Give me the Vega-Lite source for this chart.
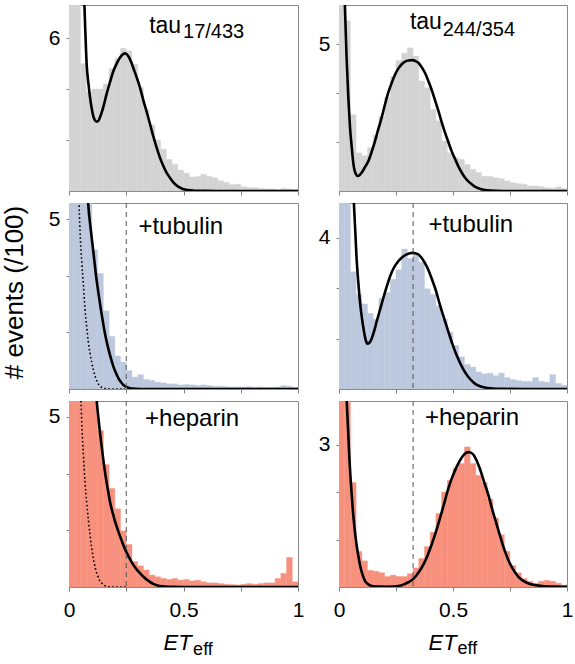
{
  "$schema": "https://vega.github.io/schema/vega-lite/v6.json",
  "padding": {"left": 0, "top": 4, "right": 0, "bottom": 0},
  "background": "white",
  "spacing": 6,
  "config": {
    "view": {"stroke": "#8a8a8a", "strokeWidth": 1},
    "font": "Liberation Sans",
    "axis": {"domain": false, "grid": false, "tickColor": "#808080", "tickSize": 3, "labelPadding": 6, "labelFont": "Liberation Sans", "titleFont": "Liberation Sans", "labelFontSize": 21, "labelColor": "#000", "titleColor": "#000", "labelOverlap": false, "labelFlush": false},
    "axisX": {"tickSize": 4},
    "text": {"font": "Liberation Sans", "color": "#000"}
  },
  "datasets": {
    "h1": [{"x":0,"x2":0.025,"y":9},{"x":0.025,"x2":0.05,"y":7.5},{"x":0.05,"x2":0.075,"y":5.0},{"x":0.075,"x2":0.1,"y":3.9},{"x":0.1,"x2":0.125,"y":4.0},{"x":0.125,"x2":0.15,"y":4.0},{"x":0.15,"x2":0.175,"y":4.2},{"x":0.175,"x2":0.2,"y":4.8},{"x":0.2,"x2":0.225,"y":5.2},{"x":0.225,"x2":0.25,"y":5.6},{"x":0.25,"x2":0.275,"y":5.5},{"x":0.275,"x2":0.3,"y":4.97},{"x":0.3,"x2":0.325,"y":4.06},{"x":0.325,"x2":0.35,"y":3.2},{"x":0.35,"x2":0.375,"y":2.6},{"x":0.375,"x2":0.4,"y":2.0},{"x":0.4,"x2":0.425,"y":1.64},{"x":0.425,"x2":0.45,"y":1.24},{"x":0.45,"x2":0.475,"y":1.05},{"x":0.475,"x2":0.5,"y":0.82},{"x":0.5,"x2":0.525,"y":0.7},{"x":0.525,"x2":0.55,"y":0.55},{"x":0.55,"x2":0.575,"y":0.57},{"x":0.575,"x2":0.6,"y":0.65},{"x":0.6,"x2":0.625,"y":0.57},{"x":0.625,"x2":0.65,"y":0.52},{"x":0.65,"x2":0.675,"y":0.4},{"x":0.675,"x2":0.7,"y":0.34},{"x":0.7,"x2":0.725,"y":0.25},{"x":0.725,"x2":0.75,"y":0.27},{"x":0.75,"x2":0.775,"y":0.17},{"x":0.775,"x2":0.8,"y":0.14},{"x":0.8,"x2":0.825,"y":0.13},{"x":0.825,"x2":0.85,"y":0.1},{"x":0.85,"x2":0.875,"y":0.08},{"x":0.875,"x2":0.9,"y":0.09},{"x":0.9,"x2":0.925,"y":0.06},{"x":0.925,"x2":0.95,"y":0.1},{"x":0.95,"x2":0.975,"y":0.08},{"x":0.975,"x2":1,"y":0.06}],
    "h2": [{"x":0,"x2":0.025,"y":8},{"x":0.025,"x2":0.05,"y":5.8},{"x":0.05,"x2":0.075,"y":2.6},{"x":0.075,"x2":0.1,"y":1.3},{"x":0.1,"x2":0.125,"y":1.2},{"x":0.125,"x2":0.15,"y":1.48},{"x":0.15,"x2":0.175,"y":1.9},{"x":0.175,"x2":0.2,"y":2.55},{"x":0.2,"x2":0.225,"y":3.2},{"x":0.225,"x2":0.25,"y":3.9},{"x":0.25,"x2":0.275,"y":4.45},{"x":0.275,"x2":0.3,"y":4.7},{"x":0.3,"x2":0.325,"y":4.88},{"x":0.325,"x2":0.35,"y":4.6},{"x":0.35,"x2":0.375,"y":3.75},{"x":0.375,"x2":0.4,"y":3.52},{"x":0.4,"x2":0.425,"y":2.78},{"x":0.425,"x2":0.45,"y":2.39},{"x":0.45,"x2":0.475,"y":1.7},{"x":0.475,"x2":0.5,"y":1.3},{"x":0.5,"x2":0.525,"y":1.14},{"x":0.525,"x2":0.55,"y":1.08},{"x":0.55,"x2":0.575,"y":0.9},{"x":0.575,"x2":0.6,"y":0.74},{"x":0.6,"x2":0.625,"y":0.63},{"x":0.625,"x2":0.65,"y":0.5},{"x":0.65,"x2":0.675,"y":0.5},{"x":0.675,"x2":0.7,"y":0.45},{"x":0.7,"x2":0.725,"y":0.42},{"x":0.725,"x2":0.75,"y":0.34},{"x":0.75,"x2":0.775,"y":0.28},{"x":0.775,"x2":0.8,"y":0.25},{"x":0.8,"x2":0.825,"y":0.23},{"x":0.825,"x2":0.85,"y":0.17},{"x":0.85,"x2":0.875,"y":0.17},{"x":0.875,"x2":0.9,"y":0.15},{"x":0.9,"x2":0.925,"y":0.11},{"x":0.925,"x2":0.95,"y":0.09},{"x":0.95,"x2":0.975,"y":0.14},{"x":0.975,"x2":1,"y":0.08}],
    "h3": [{"x":0,"x2":0.025,"y":8},{"x":0.025,"x2":0.05,"y":7},{"x":0.05,"x2":0.075,"y":6},{"x":0.075,"x2":0.1,"y":5.6},{"x":0.1,"x2":0.125,"y":4.1},{"x":0.125,"x2":0.15,"y":3.4},{"x":0.15,"x2":0.175,"y":2.3},{"x":0.175,"x2":0.2,"y":1.55},{"x":0.2,"x2":0.225,"y":0.97},{"x":0.225,"x2":0.25,"y":0.79},{"x":0.25,"x2":0.275,"y":0.54},{"x":0.275,"x2":0.3,"y":0.35},{"x":0.3,"x2":0.325,"y":0.42},{"x":0.325,"x2":0.35,"y":0.28},{"x":0.35,"x2":0.375,"y":0.25},{"x":0.375,"x2":0.4,"y":0.2},{"x":0.4,"x2":0.425,"y":0.18},{"x":0.425,"x2":0.45,"y":0.15},{"x":0.45,"x2":0.475,"y":0.15},{"x":0.475,"x2":0.5,"y":0.12},{"x":0.5,"x2":0.525,"y":0.13},{"x":0.525,"x2":0.55,"y":0.12},{"x":0.55,"x2":0.575,"y":0.1},{"x":0.575,"x2":0.6,"y":0.12},{"x":0.6,"x2":0.625,"y":0.1},{"x":0.625,"x2":0.65,"y":0.08},{"x":0.65,"x2":0.675,"y":0.08},{"x":0.675,"x2":0.7,"y":0.07},{"x":0.7,"x2":0.725,"y":0.06},{"x":0.725,"x2":0.75,"y":0.06},{"x":0.75,"x2":0.775,"y":0.06},{"x":0.775,"x2":0.8,"y":0.07},{"x":0.8,"x2":0.825,"y":0.05},{"x":0.825,"x2":0.85,"y":0.06},{"x":0.85,"x2":0.875,"y":0.05},{"x":0.875,"x2":0.9,"y":0.05},{"x":0.9,"x2":0.925,"y":0.06},{"x":0.925,"x2":0.95,"y":0.1},{"x":0.95,"x2":0.975,"y":0.08},{"x":0.975,"x2":1,"y":0.05}],
    "h4": [{"x":0,"x2":0.025,"y":6},{"x":0.025,"x2":0.05,"y":5.2},{"x":0.05,"x2":0.075,"y":3.1},{"x":0.075,"x2":0.1,"y":2.5},{"x":0.1,"x2":0.125,"y":2.25},{"x":0.125,"x2":0.15,"y":2.0},{"x":0.15,"x2":0.175,"y":1.85},{"x":0.175,"x2":0.2,"y":2.4},{"x":0.2,"x2":0.225,"y":2.55},{"x":0.225,"x2":0.25,"y":2.9},{"x":0.25,"x2":0.275,"y":3.15},{"x":0.275,"x2":0.3,"y":3.7},{"x":0.3,"x2":0.325,"y":3.45},{"x":0.325,"x2":0.35,"y":3.55},{"x":0.35,"x2":0.375,"y":3.35},{"x":0.375,"x2":0.4,"y":2.65},{"x":0.4,"x2":0.425,"y":2.5},{"x":0.425,"x2":0.45,"y":2.2},{"x":0.45,"x2":0.475,"y":1.85},{"x":0.475,"x2":0.5,"y":1.5},{"x":0.5,"x2":0.525,"y":1.15},{"x":0.525,"x2":0.55,"y":0.85},{"x":0.55,"x2":0.575,"y":0.65},{"x":0.575,"x2":0.6,"y":0.58},{"x":0.6,"x2":0.625,"y":0.45},{"x":0.625,"x2":0.65,"y":0.4},{"x":0.65,"x2":0.675,"y":0.42},{"x":0.675,"x2":0.7,"y":0.35},{"x":0.7,"x2":0.725,"y":0.42},{"x":0.725,"x2":0.75,"y":0.3},{"x":0.75,"x2":0.775,"y":0.25},{"x":0.775,"x2":0.8,"y":0.22},{"x":0.8,"x2":0.825,"y":0.2},{"x":0.825,"x2":0.85,"y":0.2},{"x":0.85,"x2":0.875,"y":0.3},{"x":0.875,"x2":0.9,"y":0.2},{"x":0.9,"x2":0.925,"y":0.18},{"x":0.925,"x2":0.95,"y":0.38},{"x":0.95,"x2":0.975,"y":0.15},{"x":0.975,"x2":1,"y":0.1}],
    "h5": [{"x":0,"x2":0.025,"y":9},{"x":0.025,"x2":0.05,"y":8},{"x":0.05,"x2":0.075,"y":7},{"x":0.075,"x2":0.1,"y":6.2},{"x":0.1,"x2":0.125,"y":5.5},{"x":0.125,"x2":0.15,"y":4.6},{"x":0.15,"x2":0.175,"y":3.6},{"x":0.175,"x2":0.2,"y":2.9},{"x":0.2,"x2":0.225,"y":2.3},{"x":0.225,"x2":0.25,"y":1.65},{"x":0.25,"x2":0.275,"y":1.25},{"x":0.275,"x2":0.3,"y":0.75},{"x":0.3,"x2":0.325,"y":0.62},{"x":0.325,"x2":0.35,"y":0.5},{"x":0.35,"x2":0.375,"y":0.35},{"x":0.375,"x2":0.4,"y":0.3},{"x":0.4,"x2":0.425,"y":0.25},{"x":0.425,"x2":0.45,"y":0.22},{"x":0.45,"x2":0.475,"y":0.25},{"x":0.475,"x2":0.5,"y":0.2},{"x":0.5,"x2":0.525,"y":0.22},{"x":0.525,"x2":0.55,"y":0.18},{"x":0.55,"x2":0.575,"y":0.2},{"x":0.575,"x2":0.6,"y":0.15},{"x":0.6,"x2":0.625,"y":0.12},{"x":0.625,"x2":0.65,"y":0.12},{"x":0.65,"x2":0.675,"y":0.1},{"x":0.675,"x2":0.7,"y":0.08},{"x":0.7,"x2":0.725,"y":0.07},{"x":0.725,"x2":0.75,"y":0.06},{"x":0.75,"x2":0.775,"y":0.08},{"x":0.775,"x2":0.8,"y":0.1},{"x":0.8,"x2":0.825,"y":0.08},{"x":0.825,"x2":0.85,"y":0.1},{"x":0.85,"x2":0.875,"y":0.12},{"x":0.875,"x2":0.9,"y":0.12},{"x":0.9,"x2":0.925,"y":0.25},{"x":0.925,"x2":0.95,"y":0.4},{"x":0.95,"x2":0.975,"y":0.87},{"x":0.975,"x2":1,"y":0.15}],
    "h6": [{"x":0,"x2":0.025,"y":5},{"x":0.025,"x2":0.05,"y":4.5},{"x":0.05,"x2":0.075,"y":2.2},{"x":0.075,"x2":0.1,"y":0.75},{"x":0.1,"x2":0.125,"y":0.55},{"x":0.125,"x2":0.15,"y":0.35},{"x":0.15,"x2":0.175,"y":0.33},{"x":0.175,"x2":0.2,"y":0.3},{"x":0.2,"x2":0.225,"y":0.22},{"x":0.225,"x2":0.25,"y":0.25},{"x":0.25,"x2":0.275,"y":0.22},{"x":0.275,"x2":0.3,"y":0.22},{"x":0.3,"x2":0.325,"y":0.28},{"x":0.325,"x2":0.35,"y":0.4},{"x":0.35,"x2":0.375,"y":0.6},{"x":0.375,"x2":0.4,"y":0.85},{"x":0.4,"x2":0.425,"y":1.15},{"x":0.425,"x2":0.45,"y":1.55},{"x":0.45,"x2":0.475,"y":2.0},{"x":0.475,"x2":0.5,"y":2.25},{"x":0.5,"x2":0.525,"y":2.5},{"x":0.525,"x2":0.55,"y":2.6},{"x":0.55,"x2":0.575,"y":2.95},{"x":0.575,"x2":0.6,"y":2.6},{"x":0.6,"x2":0.625,"y":2.35},{"x":0.625,"x2":0.65,"y":2.2},{"x":0.65,"x2":0.675,"y":1.85},{"x":0.675,"x2":0.7,"y":1.45},{"x":0.7,"x2":0.725,"y":1.1},{"x":0.725,"x2":0.75,"y":0.75},{"x":0.75,"x2":0.775,"y":0.45},{"x":0.775,"x2":0.8,"y":0.3},{"x":0.8,"x2":0.825,"y":0.18},{"x":0.825,"x2":0.85,"y":0.12},{"x":0.85,"x2":0.875,"y":0.08},{"x":0.875,"x2":0.9,"y":0.12},{"x":0.9,"x2":0.925,"y":0.14},{"x":0.925,"x2":0.95,"y":0.12},{"x":0.95,"x2":0.975,"y":0.08},{"x":0.975,"x2":1,"y":0.04}],
    "f1": [{"x":0.045,"y":14},{"x":0.055,"y":10.5},{"x":0.063,"y":8.4},{"x":0.07,"y":6.6},{"x":0.077,"y":5.0},{"x":0.085,"y":4.2},{"x":0.092,"y":3.66},{"x":0.099,"y":3.25},{"x":0.106,"y":2.94},{"x":0.113,"y":2.78},{"x":0.121,"y":2.72},{"x":0.128,"y":2.75},{"x":0.135,"y":2.88},{"x":0.15,"y":3.3},{"x":0.164,"y":3.8},{"x":0.179,"y":4.27},{"x":0.194,"y":4.71},{"x":0.208,"y":5.0},{"x":0.223,"y":5.24},{"x":0.245,"y":5.4},{"x":0.26,"y":5.28},{"x":0.272,"y":5.05},{"x":0.284,"y":4.75},{"x":0.297,"y":4.42},{"x":0.31,"y":4.06},{"x":0.325,"y":3.55},{"x":0.34,"y":3.08},{"x":0.354,"y":2.62},{"x":0.368,"y":2.15},{"x":0.382,"y":1.72},{"x":0.397,"y":1.31},{"x":0.412,"y":0.98},{"x":0.426,"y":0.72},{"x":0.441,"y":0.52},{"x":0.456,"y":0.34},{"x":0.47,"y":0.22},{"x":0.485,"y":0.13},{"x":0.5,"y":0.07},{"x":0.52,"y":0.035},{"x":0.55,"y":0.012},{"x":0.6,"y":0.004},{"x":0.7,"y":0},{"x":1,"y":0}],
    "f2": [{"x":0.012,"y":11},{"x":0.018,"y":8.5},{"x":0.022,"y":7.2},{"x":0.026,"y":6.3},{"x":0.033,"y":4.6},{"x":0.041,"y":3.18},{"x":0.048,"y":2.2},{"x":0.056,"y":1.48},{"x":0.062,"y":1.0},{"x":0.067,"y":0.74},{"x":0.074,"y":0.58},{"x":0.082,"y":0.51},{"x":0.09,"y":0.54},{"x":0.099,"y":0.62},{"x":0.113,"y":0.8},{"x":0.129,"y":1.02},{"x":0.143,"y":1.33},{"x":0.158,"y":1.7},{"x":0.172,"y":2.1},{"x":0.187,"y":2.5},{"x":0.201,"y":2.93},{"x":0.216,"y":3.35},{"x":0.231,"y":3.68},{"x":0.246,"y":3.97},{"x":0.26,"y":4.17},{"x":0.275,"y":4.32},{"x":0.29,"y":4.41},{"x":0.304,"y":4.45},{"x":0.322,"y":4.46},{"x":0.335,"y":4.43},{"x":0.348,"y":4.37},{"x":0.362,"y":4.23},{"x":0.377,"y":4.03},{"x":0.391,"y":3.77},{"x":0.406,"y":3.46},{"x":0.421,"y":3.1},{"x":0.436,"y":2.73},{"x":0.45,"y":2.36},{"x":0.465,"y":1.99},{"x":0.48,"y":1.66},{"x":0.494,"y":1.36},{"x":0.509,"y":1.09},{"x":0.523,"y":0.85},{"x":0.538,"y":0.63},{"x":0.553,"y":0.45},{"x":0.567,"y":0.33},{"x":0.582,"y":0.23},{"x":0.6,"y":0.13},{"x":0.62,"y":0.07},{"x":0.65,"y":0.025},{"x":0.69,"y":0.007},{"x":0.75,"y":0},{"x":1,"y":0}],
    "f3": [{"x":0.06,"y":9},{"x":0.07,"y":7.2},{"x":0.078,"y":6.2},{"x":0.084,"y":5.44},{"x":0.095,"y":4.7},{"x":0.106,"y":4.06},{"x":0.117,"y":3.4},{"x":0.128,"y":2.85},{"x":0.139,"y":2.35},{"x":0.15,"y":1.9},{"x":0.161,"y":1.5},{"x":0.172,"y":1.18},{"x":0.183,"y":0.9},{"x":0.194,"y":0.66},{"x":0.205,"y":0.47},{"x":0.215,"y":0.33},{"x":0.226,"y":0.21},{"x":0.237,"y":0.12},{"x":0.25,"y":0.06},{"x":0.266,"y":0.025},{"x":0.29,"y":0.008},{"x":0.33,"y":0},{"x":1,"y":0}],
    "d3": [{"x":0.035,"y":8},{"x":0.04,"y":6.5},{"x":0.044,"y":5.45},{"x":0.05,"y":4.4},{"x":0.056,"y":3.7},{"x":0.0625,"y":3.1},{"x":0.07,"y":2.35},{"x":0.077,"y":1.85},{"x":0.084,"y":1.4},{"x":0.092,"y":1.05},{"x":0.099,"y":0.78},{"x":0.107,"y":0.55},{"x":0.114,"y":0.38},{"x":0.121,"y":0.25},{"x":0.128,"y":0.15},{"x":0.136,"y":0.08},{"x":0.147,"y":0.04},{"x":0.157,"y":0.015},{"x":0.17,"y":0.003},{"x":0.2,"y":0},{"x":0.245,"y":0}],
    "f4": [{"x":0.05,"y":8},{"x":0.056,"y":6.5},{"x":0.062,"y":5.4},{"x":0.067,"y":4.7},{"x":0.072,"y":4.1},{"x":0.077,"y":3.47},{"x":0.085,"y":2.8},{"x":0.092,"y":2.31},{"x":0.1,"y":1.9},{"x":0.11,"y":1.51},{"x":0.117,"y":1.3},{"x":0.124,"y":1.2},{"x":0.133,"y":1.22},{"x":0.143,"y":1.33},{"x":0.155,"y":1.55},{"x":0.165,"y":1.78},{"x":0.18,"y":2.1},{"x":0.194,"y":2.4},{"x":0.21,"y":2.72},{"x":0.224,"y":2.98},{"x":0.24,"y":3.2},{"x":0.26,"y":3.38},{"x":0.28,"y":3.5},{"x":0.297,"y":3.56},{"x":0.323,"y":3.6},{"x":0.348,"y":3.56},{"x":0.362,"y":3.47},{"x":0.377,"y":3.33},{"x":0.392,"y":3.15},{"x":0.406,"y":2.93},{"x":0.425,"y":2.6},{"x":0.443,"y":2.22},{"x":0.462,"y":1.85},{"x":0.48,"y":1.51},{"x":0.498,"y":1.18},{"x":0.516,"y":0.89},{"x":0.535,"y":0.64},{"x":0.553,"y":0.44},{"x":0.571,"y":0.29},{"x":0.589,"y":0.18},{"x":0.607,"y":0.1},{"x":0.626,"y":0.06},{"x":0.662,"y":0.02},{"x":0.72,"y":0.003},{"x":0.8,"y":0},{"x":1,"y":0}],
    "f5": [{"x":0.1,"y":8},{"x":0.11,"y":6.6},{"x":0.121,"y":5.47},{"x":0.128,"y":5.0},{"x":0.135,"y":4.56},{"x":0.146,"y":3.95},{"x":0.157,"y":3.39},{"x":0.168,"y":2.93},{"x":0.179,"y":2.51},{"x":0.19,"y":2.2},{"x":0.201,"y":1.93},{"x":0.212,"y":1.7},{"x":0.223,"y":1.49},{"x":0.236,"y":1.26},{"x":0.249,"y":1.05},{"x":0.265,"y":0.84},{"x":0.281,"y":0.65},{"x":0.295,"y":0.52},{"x":0.31,"y":0.41},{"x":0.325,"y":0.3},{"x":0.339,"y":0.22},{"x":0.353,"y":0.15},{"x":0.368,"y":0.09},{"x":0.383,"y":0.05},{"x":0.397,"y":0.03},{"x":0.42,"y":0.012},{"x":0.45,"y":0.004},{"x":0.5,"y":0},{"x":1,"y":0}],
    "d5": [{"x":0.035,"y":9},{"x":0.04,"y":8},{"x":0.045,"y":6.5},{"x":0.052,"y":5.47},{"x":0.057,"y":4.6},{"x":0.063,"y":3.88},{"x":0.07,"y":3.1},{"x":0.077,"y":2.51},{"x":0.085,"y":1.95},{"x":0.092,"y":1.53},{"x":0.099,"y":1.15},{"x":0.106,"y":0.85},{"x":0.115,"y":0.55},{"x":0.124,"y":0.36},{"x":0.133,"y":0.2},{"x":0.143,"y":0.12},{"x":0.152,"y":0.06},{"x":0.162,"y":0.02},{"x":0.175,"y":0.005},{"x":0.2,"y":0},{"x":0.25,"y":0}],
    "f6": [{"x":0.018,"y":8},{"x":0.024,"y":6},{"x":0.029,"y":4.6},{"x":0.034,"y":3.91},{"x":0.04,"y":3.3},{"x":0.045,"y":2.77},{"x":0.052,"y":2.2},{"x":0.06,"y":1.66},{"x":0.068,"y":1.25},{"x":0.077,"y":0.89},{"x":0.086,"y":0.62},{"x":0.095,"y":0.4},{"x":0.104,"y":0.25},{"x":0.114,"y":0.13},{"x":0.125,"y":0.07},{"x":0.136,"y":0.035},{"x":0.155,"y":0.012},{"x":0.18,"y":0.007},{"x":0.21,"y":0.006},{"x":0.238,"y":0.008},{"x":0.26,"y":0.02},{"x":0.282,"y":0.05},{"x":0.304,"y":0.1},{"x":0.326,"y":0.17},{"x":0.348,"y":0.3},{"x":0.37,"y":0.47},{"x":0.388,"y":0.66},{"x":0.406,"y":0.89},{"x":0.425,"y":1.16},{"x":0.443,"y":1.45},{"x":0.462,"y":1.77},{"x":0.48,"y":2.08},{"x":0.498,"y":2.33},{"x":0.516,"y":2.53},{"x":0.53,"y":2.66},{"x":0.545,"y":2.77},{"x":0.556,"y":2.82},{"x":0.567,"y":2.84},{"x":0.578,"y":2.83},{"x":0.589,"y":2.79},{"x":0.603,"y":2.67},{"x":0.618,"y":2.49},{"x":0.636,"y":2.22},{"x":0.655,"y":1.94},{"x":0.673,"y":1.62},{"x":0.692,"y":1.31},{"x":0.71,"y":1.02},{"x":0.728,"y":0.75},{"x":0.746,"y":0.53},{"x":0.765,"y":0.36},{"x":0.786,"y":0.22},{"x":0.808,"y":0.13},{"x":0.835,"y":0.07},{"x":0.867,"y":0.035},{"x":0.9,"y":0.015},{"x":0.94,"y":0.007},{"x":1,"y":0.003}]
  },
  "vconcat": [
    {
      "bounds": "flush",
      "spacing": 41,
      "hconcat": [
        {
          "width": 229, "height": 186,
          "layer": [
            {"data": {"name": "h1"}, "mark": {"type": "bar", "fill": "#d3d3d3", "stroke": "#d3d3d3", "strokeWidth": 0.4, "clip": true},
             "encoding": {
               "x": {"field": "x", "type": "quantitative", "scale": {"domain": [0, 1], "nice": false, "zero": false}, "axis": {"values": [0, 0.25, 0.5, 0.75, 1], "labels": false, "title": null}},
               "x2": {"field": "x2"},
               "y": {"field": "y", "type": "quantitative", "scale": {"domain": [0, 7.3], "nice": false}, "axis": {"values": [2, 4, 6], "labelExpr": "datum.value == 6 ? '6' : ''", "title": null}},
               "y2": {"datum": 0}
             }},
            {"data": {"name": "f1"}, "mark": {"type": "line", "color": "#000", "strokeWidth": 2.6, "interpolate": "monotone", "clip": true},
             "encoding": {"x": {"field": "x", "type": "quantitative"}, "y": {"field": "y", "type": "quantitative"}}},
            {"data": {"values": [{"t": "tau"}]}, "mark": {"type": "text", "align": "left", "baseline": "alphabetic", "fontSize": 23},
             "encoding": {"x": {"datum": 0.35}, "y": {"datum": 6.2}, "text": {"field": "t"}}},
            {"data": {"values": [{"t": "17/433"}]}, "mark": {"type": "text", "align": "left", "baseline": "alphabetic", "fontSize": 20},
             "encoding": {"x": {"datum": 0.498}, "y": {"datum": 6.02}, "text": {"field": "t"}}}
          ]
        },
        {
          "width": 228, "height": 186,
          "layer": [
            {"data": {"name": "h2"}, "mark": {"type": "bar", "fill": "#d3d3d3", "stroke": "#d3d3d3", "strokeWidth": 0.4, "clip": true},
             "encoding": {
               "x": {"field": "x", "type": "quantitative", "scale": {"domain": [0, 1], "nice": false, "zero": false}, "axis": {"values": [0, 0.25, 0.5, 0.75, 1], "labels": false, "title": null}},
               "x2": {"field": "x2"},
               "y": {"field": "y", "type": "quantitative", "scale": {"domain": [0, 6.34], "nice": false}, "axis": {"values": [1.6667, 3.3333, 5], "labelExpr": "datum.value == 5 ? '5' : ''", "title": null}},
               "y2": {"datum": 0}
             }},
            {"data": {"name": "f2"}, "mark": {"type": "line", "color": "#000", "strokeWidth": 2.6, "interpolate": "monotone", "clip": true},
             "encoding": {"x": {"field": "x", "type": "quantitative"}, "y": {"field": "y", "type": "quantitative"}}},
            {"data": {"values": [{"t": "tau"}]}, "mark": {"type": "text", "align": "left", "baseline": "alphabetic", "fontSize": 23},
             "encoding": {"x": {"datum": 0.311}, "y": {"datum": 5.51}, "text": {"field": "t"}}},
            {"data": {"values": [{"t": "244/354"}]}, "mark": {"type": "text", "align": "left", "baseline": "alphabetic", "fontSize": 20},
             "encoding": {"x": {"datum": 0.455}, "y": {"datum": 5.27}, "text": {"field": "t"}}}
          ]
        }
      ]
    },
    {
      "bounds": "flush",
      "spacing": 41,
      "hconcat": [
        {
          "width": 229, "height": 186,
          "layer": [
            {"data": {"name": "h3"}, "mark": {"type": "bar", "fill": "#bcc8dd", "stroke": "#bcc8dd", "strokeWidth": 0.4, "clip": true},
             "encoding": {
               "x": {"field": "x", "type": "quantitative", "scale": {"domain": [0, 1], "nice": false, "zero": false}, "axis": {"values": [0, 0.25, 0.5, 0.75, 1], "labels": false, "title": null}},
               "x2": {"field": "x2"},
               "y": {"field": "y", "type": "quantitative", "scale": {"domain": [0, 5.475], "nice": false}, "axis": {"values": [1.6667, 3.3333, 5], "labelExpr": "datum.value == 5 ? '5' : ''", "title": "# events (/100)", "titleFontSize": 26, "titleFontWeight": "normal", "titleAngle": 270, "titleX": -47, "titleY": 89, "titleAlign": "center", "titleBaseline": "alphabetic"}},
               "y2": {"datum": 0}
             }},
            {"data": {"name": "d3"}, "mark": {"type": "line", "color": "#000", "strokeWidth": 1.6, "strokeDash": [1.6, 2.4], "interpolate": "monotone", "clip": true},
             "encoding": {"x": {"field": "x", "type": "quantitative"}, "y": {"field": "y", "type": "quantitative"}}},
            {"data": {"name": "f3"}, "mark": {"type": "line", "color": "#000", "strokeWidth": 2.6, "interpolate": "monotone", "clip": true},
             "encoding": {"x": {"field": "x", "type": "quantitative"}, "y": {"field": "y", "type": "quantitative"}}},
            {"data": {"values": [{"v": 0.25}]}, "mark": {"type": "rule", "color": "#555", "strokeWidth": 1, "strokeDash": [5, 4]},
             "encoding": {"x": {"field": "v", "type": "quantitative"}}},
            {"data": {"values": [{"t": "+tubulin"}]}, "mark": {"type": "text", "align": "left", "baseline": "alphabetic", "fontSize": 24},
             "encoding": {"x": {"datum": 0.303}, "y": {"datum": 4.55}, "text": {"field": "t"}}}
          ]
        },
        {
          "width": 228, "height": 186,
          "layer": [
            {"data": {"name": "h4"}, "mark": {"type": "bar", "fill": "#bcc8dd", "stroke": "#bcc8dd", "strokeWidth": 0.4, "clip": true},
             "encoding": {
               "x": {"field": "x", "type": "quantitative", "scale": {"domain": [0, 1], "nice": false, "zero": false}, "axis": {"values": [0, 0.25, 0.5, 0.75, 1], "labels": false, "title": null}},
               "x2": {"field": "x2"},
               "y": {"field": "y", "type": "quantitative", "scale": {"domain": [0, 4.92], "nice": false}, "axis": {"values": [1.3333, 2.6667, 4], "labelExpr": "datum.value == 4 ? '4' : ''", "title": null}},
               "y2": {"datum": 0}
             }},
            {"data": {"name": "f4"}, "mark": {"type": "line", "color": "#000", "strokeWidth": 2.6, "interpolate": "monotone", "clip": true},
             "encoding": {"x": {"field": "x", "type": "quantitative"}, "y": {"field": "y", "type": "quantitative"}}},
            {"data": {"values": [{"v": 0.325}]}, "mark": {"type": "rule", "color": "#555", "strokeWidth": 1, "strokeDash": [5, 4]},
             "encoding": {"x": {"field": "v", "type": "quantitative"}}},
            {"data": {"values": [{"t": "+tubulin"}]}, "mark": {"type": "text", "align": "left", "baseline": "alphabetic", "fontSize": 24},
             "encoding": {"x": {"datum": 0.392}, "y": {"datum": 4.16}, "text": {"field": "t"}}}
          ]
        }
      ]
    },
    {
      "bounds": "flush",
      "spacing": 41,
      "hconcat": [
        {
          "width": 229, "height": 186,
          "layer": [
            {"data": {"name": "h5"}, "mark": {"type": "bar", "fill": "#f7907c", "stroke": "#f7907c", "strokeWidth": 0.4, "clip": true},
             "encoding": {
               "x": {"field": "x", "type": "quantitative", "scale": {"domain": [0, 1], "nice": false, "zero": false}, "axis": {"values": [0, 0.25, 0.5, 0.75, 1], "labelExpr": "datum.value == 0 ? '0' : datum.value == 0.5 ? '0.5' : datum.value == 1 ? '1' : ''", "labelPadding": 8, "title": "ET", "titleFontStyle": "italic", "titleFontWeight": "normal", "titleFontSize": 22, "titleX": 94, "titleY": 62, "titleAlign": "left", "titleBaseline": "alphabetic"}},
               "x2": {"field": "x2"},
               "y": {"field": "y", "type": "quantitative", "scale": {"domain": [0, 5.47], "nice": false}, "axis": {"values": [1.6667, 3.3333, 5], "labelExpr": "datum.value == 5 ? '5' : ''", "title": null}},
               "y2": {"datum": 0}
             }},
            {"data": {"name": "d5"}, "mark": {"type": "line", "color": "#000", "strokeWidth": 1.6, "strokeDash": [1.6, 2.4], "interpolate": "monotone", "clip": true},
             "encoding": {"x": {"field": "x", "type": "quantitative"}, "y": {"field": "y", "type": "quantitative"}}},
            {"data": {"name": "f5"}, "mark": {"type": "line", "color": "#000", "strokeWidth": 2.6, "interpolate": "monotone", "clip": true},
             "encoding": {"x": {"field": "x", "type": "quantitative"}, "y": {"field": "y", "type": "quantitative"}}},
            {"data": {"values": [{"v": 0.25}]}, "mark": {"type": "rule", "color": "#555", "strokeWidth": 1, "strokeDash": [5, 4]},
             "encoding": {"x": {"field": "v", "type": "quantitative"}}},
            {"data": {"values": [{"t": "+heparin"}]}, "mark": {"type": "text", "align": "left", "baseline": "alphabetic", "fontSize": 24},
             "encoding": {"x": {"datum": 0.332}, "y": {"datum": 4.74}, "text": {"field": "t"}}},
            {"data": {"values": [{"t": "eff"}]}, "mark": {"type": "text", "align": "left", "baseline": "alphabetic", "fontSize": 18},
             "encoding": {"x": {"datum": 0.542}, "y": {"datum": -1.99}, "text": {"field": "t"}}}
          ]
        },
        {
          "width": 228, "height": 186,
          "layer": [
            {"data": {"name": "h6"}, "mark": {"type": "bar", "fill": "#f7907c", "stroke": "#f7907c", "strokeWidth": 0.4, "clip": true},
             "encoding": {
               "x": {"field": "x", "type": "quantitative", "scale": {"domain": [0, 1], "nice": false, "zero": false}, "axis": {"values": [0, 0.25, 0.5, 0.75, 1], "labelExpr": "datum.value == 0 ? '0' : datum.value == 0.5 ? '0.5' : datum.value == 1 ? '1' : ''", "labelPadding": 8, "title": "ET", "titleFontStyle": "italic", "titleFontWeight": "normal", "titleFontSize": 22, "titleX": 89, "titleY": 62, "titleAlign": "left", "titleBaseline": "alphabetic"}},
               "x2": {"field": "x2"},
               "y": {"field": "y", "type": "quantitative", "scale": {"domain": [0, 3.917], "nice": false}, "axis": {"values": [1, 2, 3], "labelExpr": "datum.value == 3 ? '3' : ''", "title": null}},
               "y2": {"datum": 0}
             }},
            {"data": {"name": "f6"}, "mark": {"type": "line", "color": "#000", "strokeWidth": 2.6, "interpolate": "monotone", "clip": true},
             "encoding": {"x": {"field": "x", "type": "quantitative"}, "y": {"field": "y", "type": "quantitative"}}},
            {"data": {"values": [{"v": 0.325}]}, "mark": {"type": "rule", "color": "#555", "strokeWidth": 1, "strokeDash": [5, 4]},
             "encoding": {"x": {"field": "v", "type": "quantitative"}}},
            {"data": {"values": [{"t": "+heparin"}]}, "mark": {"type": "text", "align": "left", "baseline": "alphabetic", "fontSize": 24},
             "encoding": {"x": {"datum": 0.377}, "y": {"datum": 3.42}, "text": {"field": "t"}}},
            {"data": {"values": [{"t": "eff"}]}, "mark": {"type": "text", "align": "left", "baseline": "alphabetic", "fontSize": 18},
             "encoding": {"x": {"datum": 0.52}, "y": {"datum": -1.42}, "text": {"field": "t"}}}
          ]
        }
      ]
    }
  ]
}
